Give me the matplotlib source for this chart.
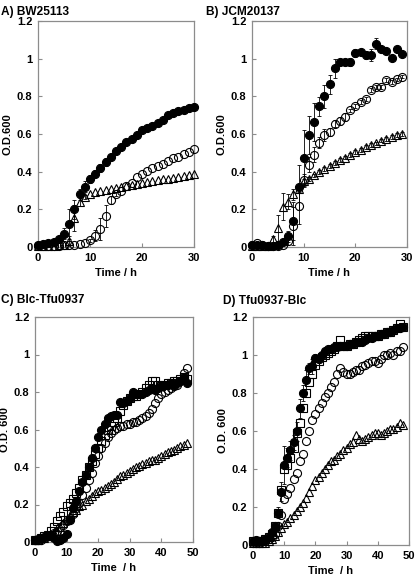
import matplotlib
matplotlib.use("Agg")
import matplotlib.pyplot as plt

plt.rcParams['font.family'] = ['Liberation Sans', 'DejaVu Sans']
plt.rcParams['font.weight'] = 'bold'

# ---- data (O.D.600 vs time) ----
t_a = list(range(0, 31))
a_fill = [0.01, 0.015, 0.02, 0.025, 0.04, 0.07, 0.12, 0.20, 0.28, 0.32, 0.36, 0.39, 0.42, 0.45, 0.48, 0.51,
          0.53, 0.555, 0.575, 0.595, 0.62, 0.63, 0.645, 0.66, 0.675, 0.70, 0.71, 0.72, 0.73, 0.74, 0.745]
a_fill_err = [0, 0, 0, 0, 0.01, 0.03, 0.08, 0.05, 0.03, 0.03, 0.02, 0.02, 0.02, 0.02, 0.01, 0.01,
              0, 0, 0, 0, 0, 0, 0, 0, 0, 0, 0, 0, 0, 0, 0]
a_open = [0.005, 0.005, 0.005, 0.005, 0.005, 0.008, 0.01, 0.012, 0.015, 0.02, 0.035, 0.06, 0.095, 0.165, 0.25,
          0.28, 0.30, 0.325, 0.34, 0.37, 0.39, 0.405, 0.42, 0.43, 0.44, 0.455, 0.47, 0.48, 0.495, 0.505, 0.52]
a_open_err = [0, 0, 0, 0, 0, 0, 0, 0, 0, 0, 0.01, 0.03, 0.06, 0.06, 0.02, 0.01,
              0, 0, 0, 0, 0, 0, 0, 0, 0, 0, 0, 0, 0, 0, 0]
a_tri = [0.005, 0.005, 0.005, 0.005, 0.008, 0.01, 0.03, 0.155, 0.24, 0.265, 0.28, 0.29, 0.30, 0.305, 0.31, 0.315,
         0.32, 0.325, 0.33, 0.335, 0.34, 0.345, 0.35, 0.355, 0.36, 0.36, 0.365, 0.37, 0.375, 0.38, 0.39]
a_tri_err = [0, 0, 0, 0, 0, 0, 0.03, 0.07, 0.02, 0.01, 0, 0, 0, 0, 0, 0,
             0, 0, 0, 0, 0, 0, 0, 0, 0, 0, 0, 0, 0, 0, 0]

t_b = list(range(0, 30))
b_fill = [0.01, 0.01, 0.01, 0.005, 0.005, 0.008, 0.025, 0.056, 0.139, 0.316, 0.47, 0.595, 0.665, 0.748, 0.80,
          0.865, 0.948, 0.983, 0.983, 0.983, 1.03, 1.035, 1.02, 1.02, 1.08, 1.05, 1.04, 1.005, 1.05, 1.025]
b_fill_err = [0, 0, 0, 0, 0, 0, 0.01, 0.03, 0.1, 0.12, 0.15, 0.1, 0.1, 0.05, 0.06,
              0.05, 0.05, 0.01, 0.01, 0.02, 0.02, 0.01, 0.02, 0.03, 0.03, 0.01, 0.01, 0.01, 0.01, 0.01]
b_open = [0.01, 0.02, 0.01, 0.005, 0.005, 0.005, 0.01, 0.03, 0.11, 0.22, 0.356, 0.436, 0.49, 0.554, 0.595,
          0.61, 0.655, 0.67, 0.69, 0.725, 0.75, 0.77, 0.785, 0.835, 0.85, 0.85, 0.885, 0.875, 0.89, 0.905]
b_open_err = [0, 0, 0, 0, 0, 0, 0, 0.02, 0.1, 0.1, 0.03, 0.04, 0.04, 0.03, 0.03,
              0.02, 0.02, 0.02, 0.02, 0.01, 0.01, 0.01, 0.01, 0.01, 0.01, 0.01, 0.01, 0.01, 0.01, 0.01]
b_tri = [0.005, 0.005, 0.005, 0.005, 0.04, 0.10, 0.215, 0.24, 0.28, 0.31, 0.35, 0.36, 0.38, 0.40, 0.415,
         0.43, 0.445, 0.46, 0.475, 0.49, 0.505, 0.515, 0.53, 0.54, 0.55, 0.565, 0.575, 0.585, 0.595, 0.60]
b_tri_err = [0, 0, 0, 0, 0.02, 0.07, 0.07, 0.04, 0.03, 0.02, 0.01, 0.01, 0.01, 0.01, 0.01,
             0.01, 0.01, 0.01, 0.01, 0.01, 0.01, 0.01, 0.01, 0.01, 0.01, 0.01, 0.01, 0.01, 0.01, 0.01]

t_c = list(range(0, 49))
c_fill = [0.01, 0.015, 0.02, 0.025, 0.03, 0.03, 0.02, 0.005, 0.01, 0.02, 0.045, 0.12, 0.18, 0.22, 0.27, 0.32,
          0.36, 0.40, 0.45, 0.50, 0.56, 0.60, 0.63, 0.66, 0.67, 0.68, 0.68, 0.745, 0.74, 0.75, 0.77, 0.80,
          0.79, 0.79, 0.79, 0.80, 0.81, 0.82, 0.81, 0.82, 0.83, 0.84, 0.84, 0.85, 0.84, 0.85, 0.86, 0.88, 0.85]
c_sq = [0.01, 0.01, 0.02, 0.03, 0.04, 0.06, 0.08, 0.11, 0.14, 0.16, 0.19, 0.21, 0.23, 0.26, 0.29, 0.33,
        0.36, 0.40, 0.43, 0.47, 0.50, 0.54, 0.57, 0.60, 0.62, 0.64, 0.66, 0.70, 0.73, 0.75, 0.77, 0.78,
        0.78, 0.79, 0.80, 0.82, 0.84, 0.86, 0.86, 0.84, 0.83, 0.84, 0.85, 0.85, 0.86, 0.86, 0.87, 0.88, 0.87]
c_open = [0.01, 0.01, 0.01, 0.02, 0.03, 0.04, 0.05, 0.06, 0.08, 0.09, 0.11, 0.13, 0.15, 0.18, 0.21, 0.25,
          0.29, 0.33, 0.37, 0.42, 0.46, 0.50, 0.53, 0.56, 0.58, 0.60, 0.61, 0.62, 0.62, 0.63, 0.63, 0.64,
          0.64, 0.65, 0.66, 0.67, 0.69, 0.71, 0.74, 0.77, 0.79, 0.80, 0.81, 0.82, 0.83, 0.84, 0.86, 0.90, 0.93]
c_tri = [0.01, 0.01, 0.02, 0.02, 0.03, 0.04, 0.05, 0.06, 0.08, 0.10, 0.12, 0.14, 0.16, 0.17, 0.19, 0.20,
         0.22, 0.23, 0.245, 0.26, 0.27, 0.28, 0.29, 0.30, 0.31, 0.32, 0.335, 0.35, 0.36, 0.37, 0.38, 0.39,
         0.40, 0.405, 0.415, 0.42, 0.43, 0.435, 0.44, 0.45, 0.46, 0.47, 0.48, 0.485, 0.49, 0.50, 0.51, 0.52, 0.53]

t_d = list(range(0, 49))
d_fill = [0.02, 0.025, 0.02, 0.02, 0.03, 0.04, 0.07, 0.10, 0.17, 0.28, 0.42, 0.46, 0.50, 0.54, 0.60, 0.72,
          0.80, 0.87, 0.93, 0.94, 0.985, 0.98, 1.0, 1.02, 1.03, 1.03, 1.04, 1.04, 1.05, 1.05, 1.05, 1.06,
          1.06, 1.07, 1.07, 1.07, 1.08, 1.09, 1.09, 1.10, 1.10, 1.11, 1.11, 1.12, 1.12, 1.13, 1.14, 1.14, 1.15]
d_fill_err = [0, 0, 0, 0, 0, 0, 0.01, 0.02, 0.03, 0.05, 0.1, 0.05, 0.05, 0.04, 0.05, 0.05,
              0.04, 0.05, 0.03, 0.04, 0.02, 0.02, 0.01, 0.01, 0.01, 0.01, 0.01, 0.01, 0.01, 0.01, 0.01, 0.01,
              0.01, 0.01, 0.01, 0.01, 0.01, 0.01, 0.01, 0.01, 0.01, 0.01, 0.01, 0.01, 0.01, 0.01, 0.01, 0.01, 0.01]
d_sq = [0.02, 0.02, 0.02, 0.02, 0.03, 0.04, 0.06, 0.10, 0.17, 0.29, 0.40, 0.42, 0.46, 0.51, 0.59, 0.64,
        0.72, 0.80, 0.86, 0.90, 0.95, 0.97, 0.99, 1.00, 1.01, 1.02, 1.03, 1.05, 1.08, 1.05, 1.05, 1.06,
        1.06, 1.07, 1.08, 1.09, 1.10, 1.10, 1.10, 1.10, 1.10, 1.11, 1.11, 1.12, 1.12, 1.13, 1.14, 1.165, 1.15]
d_open = [0.01, 0.01, 0.01, 0.02, 0.02, 0.03, 0.04, 0.06, 0.10, 0.16, 0.24, 0.27, 0.30, 0.35, 0.38, 0.44,
          0.48, 0.55, 0.60, 0.66, 0.69, 0.72, 0.75, 0.78, 0.80, 0.83, 0.86, 0.90, 0.93, 0.91, 0.90, 0.90,
          0.91, 0.92, 0.92, 0.94, 0.95, 0.96, 0.97, 0.97, 0.96, 0.98, 1.00, 1.00, 1.01, 1.00, 1.02, 1.02, 1.04]
d_tri = [0.01, 0.01, 0.01, 0.01, 0.01, 0.02, 0.03, 0.05, 0.07, 0.09, 0.11, 0.12, 0.14, 0.16, 0.18, 0.20,
         0.22, 0.25, 0.28, 0.31, 0.34, 0.36, 0.38, 0.40, 0.42, 0.44, 0.45, 0.47, 0.48, 0.50, 0.51, 0.53,
         0.54, 0.58, 0.56, 0.55, 0.56, 0.57, 0.58, 0.59, 0.59, 0.58, 0.59, 0.60, 0.61, 0.61, 0.62, 0.64, 0.63]

W, H = 416, 578
fig = plt.figure(figsize=(W / 100, H / 100), dpi=100)


def px_axes(left, top, right, bottom):
    return fig.add_axes([left / W, 1 - bottom / H, (right - left) / W, (bottom - top) / H])


def series(ax, t, y, marker, filled, err=None):
    if err is not None:
        tt = [a for a, e in zip(t, err) if e > 0]
        yy = [b for b, e in zip(y, err) if e > 0]
        ee = [e for e in err if e > 0]
        ax.errorbar(tt, yy, yerr=ee, fmt='none', ecolor='black', elinewidth=0.6,
                    capsize=1.5, capthick=0.6, zorder=2, clip_on=False)
    ms = 5.8 if marker == 'o' else 6.2
    ax.plot(t, y, linestyle='none', marker=marker, ms=ms, mew=0.8, mec='black',
            mfc='black' if filled else 'none', zorder=3, clip_on=False)


def style(ax, xmax, xstep, ylabel):
    ax.set_xlim(0, xmax)
    ax.set_ylim(0, 1.2)
    ax.set_xticks(range(0, xmax + 1, xstep))
    ax.set_yticks([0, 0.2, 0.4, 0.6, 0.8, 1.0, 1.2])
    ax.set_yticklabels(['0', '0.2', '0.4', '0.6', '0.8', '1', '1.2'])
    for s in ax.spines.values():
        s.set_color('#8c8c8c')
        s.set_linewidth(0.9)
    ax.tick_params(direction='in', length=3, color='#8c8c8c', labelsize=8, pad=4)
    for lab in ax.get_xticklabels() + ax.get_yticklabels():
        lab.set_fontweight('bold')
    ax.set_xlabel('Time / h' if ylabel == 'O.D.600' else 'Time  / h', fontsize=8, fontweight='bold', labelpad=4)
    ax.set_ylabel(ylabel, fontsize=8, fontweight='bold', labelpad=3)


axA = px_axes(38, 21, 194, 247)
series(axA, t_a, a_tri, '^', False, a_tri_err)
series(axA, t_a, a_open, 'o', False, a_open_err)
series(axA, t_a, a_fill, 'o', True, a_fill_err)
style(axA, 30, 10, 'O.D.600')

axB = px_axes(252, 21, 407, 247)
series(axB, t_b, b_tri, '^', False, b_tri_err)
series(axB, t_b, b_open, 'o', False, b_open_err)
series(axB, t_b, b_fill, 'o', True, b_fill_err)
style(axB, 30, 10, 'O.D.600')

axC = px_axes(35, 317, 193, 542)
series(axC, t_c, c_tri, '^', False)
series(axC, t_c, c_open, 'o', False)
series(axC, t_c, c_sq, 's', False)
series(axC, t_c, c_fill, 'o', True)
style(axC, 50, 10, 'O.D. 600')

axD = px_axes(253, 317, 409, 545)
series(axD, t_d, d_tri, '^', False)
series(axD, t_d, d_open, 'o', False)
series(axD, t_d, d_sq, 's', False)
series(axD, t_d, d_fill, 'o', True, d_fill_err)
style(axD, 50, 10, 'O.D. 600')

titles = [(1, 12, 'A) BW25113'), (206, 12, 'B) JCM20137'),
          (1, 300, 'C) Blc-Tfu0937'), (223, 301, 'D) Tfu0937-Blc')]
for x, y, s in titles:
    fig.text(x / W, 1 - y / H, s, fontsize=8.6, fontweight='bold', va='center', ha='left')

fig.savefig('out.png', dpi=100)
